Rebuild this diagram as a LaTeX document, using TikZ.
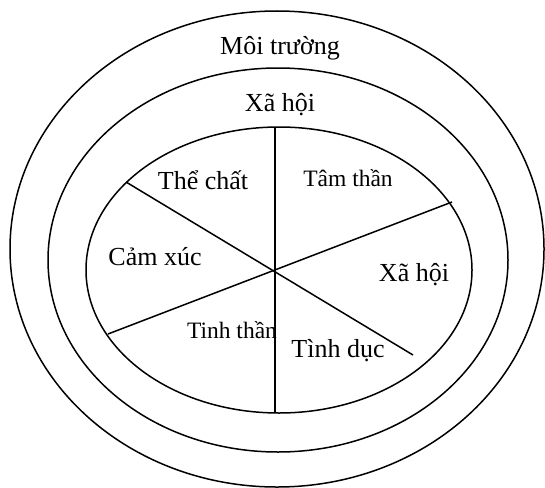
\documentclass[tikz,border=0pt]{standalone}
\usepackage{fontspec}
\setmainfont{Liberation Serif}

\begin{document}
\begin{tikzpicture}[x=1pt, y=-1pt, line width=1.5pt,
	big/.style={font=\fontsize{26}{30}\selectfont},
	small/.style={font=\fontsize{23.5}{28}\selectfont}]
	\useasboundingbox (0,0) rectangle (545,487);
	\draw (277,249) ellipse [x radius=267, y radius=238];
	\draw (278,260) ellipse [x radius=230, y radius=192];
	\draw (279,270) ellipse [x radius=193, y radius=143];
	\coordinate (top) at (275,127);
	\coordinate (bot) at (275,413);
	\coordinate (ul) at (126,182);
	\coordinate (lr) at (413,355);
	\coordinate (ur) at (452,202);
	\coordinate (ll) at (108,334);
	\draw (top) -- (bot);
	\draw (ul) -- (lr);
	\draw (ur) -- (ll);
	\node[big] (env) at (280,48) {Môi trường};
	\node[big] (soc) at (280,105) {Xã hội};
	\node[big] (body) at (203,180) {Thể chất};
	\node[small] (mind) at (348,178) {Tâm thần};
	\node[big] (emo) at (155,257) {Cảm xúc};
	\node[big] (social) at (414,275) {Xã hội};
	\node[small] (spirit) at (232,330) {Tinh thần};
	\node[big] (sex) at (338,351) {Tình dục};
\end{tikzpicture}
\end{document}
